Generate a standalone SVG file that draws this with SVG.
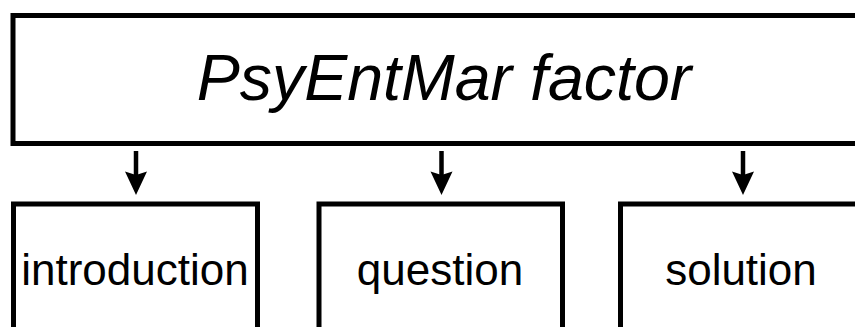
<svg xmlns="http://www.w3.org/2000/svg" width="855" height="327" viewBox="0 0 855 327">
  <style>
    .box { fill: #ffffff; stroke: #000000; stroke-width: 5; }
    .shaft { stroke: #000000; stroke-width: 4.5; fill: none; }
    .head { fill: #000000; stroke: none; }
    .label { font-family: "Liberation Sans", Arial, Helvetica, sans-serif; fill: #000000; text-anchor: middle; }
  </style>
  <rect x="0" y="0" width="855" height="327" fill="#ffffff"/>
  <g id="factor">
    <rect class="box" x="13" y="15.5" width="900" height="128"/>
    <text class="label" x="444" y="100" font-size="64.5" font-style="italic">PsyEntMar factor</text>
  </g>
  <g id="introduction">
    <rect class="box" x="13.5" y="204" width="244" height="200"/>
    <text class="label" x="135" y="285" font-size="44">introduction</text>
  </g>
  <g id="question">
    <rect class="box" x="319" y="204" width="243.5" height="200"/>
    <text class="label" x="440" y="285" font-size="44">question</text>
  </g>
  <g id="solution">
    <rect class="box" x="620.5" y="204" width="400" height="200"/>
    <text class="label" x="741" y="285" font-size="44">solution</text>
  </g>
  <g id="connectors">
    <line class="shaft" x1="136" y1="151" x2="136" y2="175"/>
    <path class="head" d="M125,171.5 L136,175 L147,171.5 L136,195 Z"/>
    <line class="shaft" x1="441.5" y1="151" x2="441.5" y2="175"/>
    <path class="head" d="M430.5,171.5 L441.5,175 L452.5,171.5 L441.5,195 Z"/>
    <line class="shaft" x1="743" y1="151" x2="743" y2="175"/>
    <path class="head" d="M732,171.5 L743,175 L754,171.5 L743,195 Z"/>
  </g>
</svg>
